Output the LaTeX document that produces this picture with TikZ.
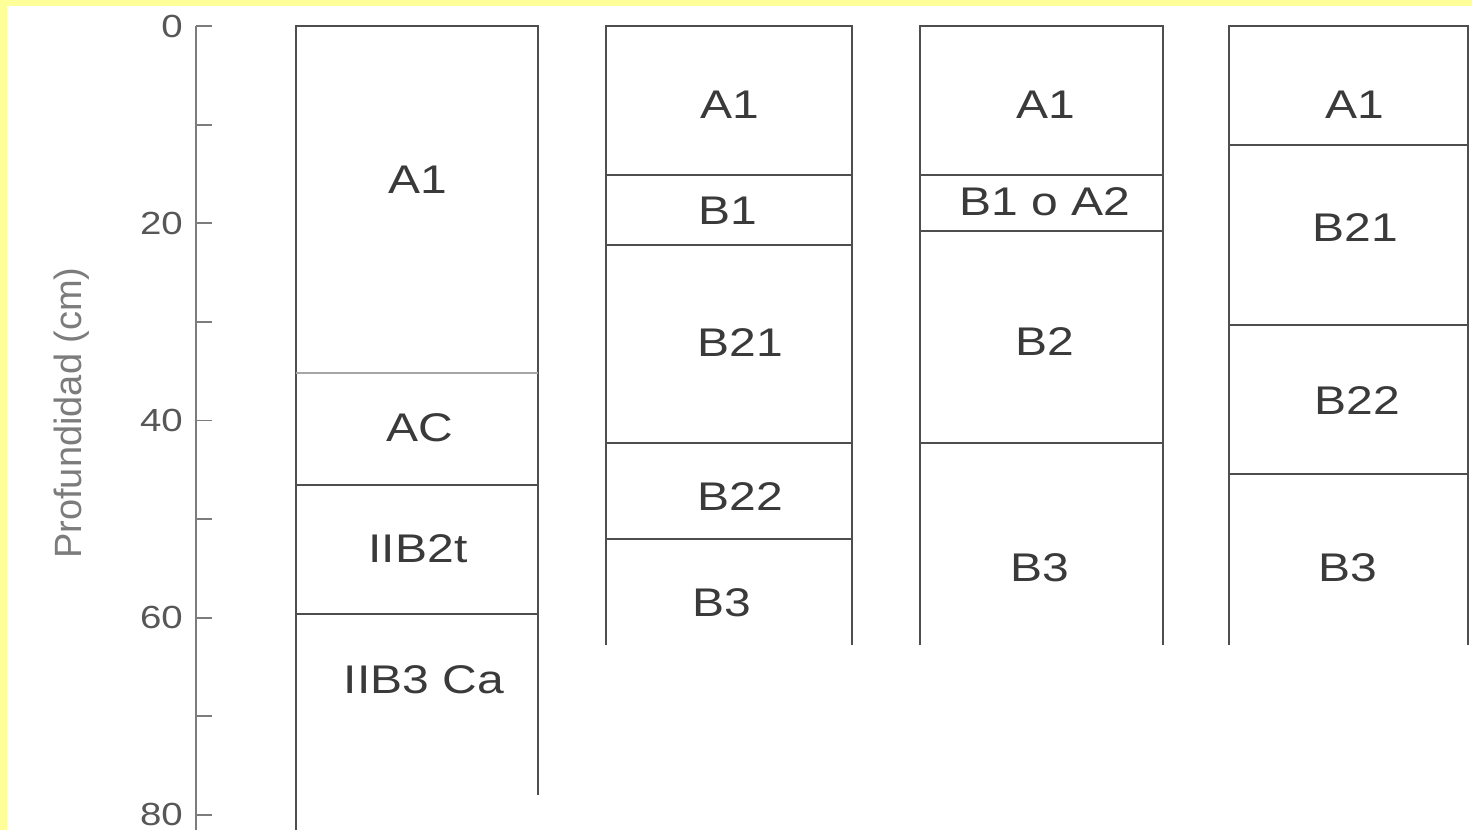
\documentclass[tikz,border=0pt]{standalone}
\usepackage{fontspec}
\setmainfont{Liberation Sans}
\newfontfamily\horizonfont[FakeStretch=1.2]{Liberation Sans}
\usetikzlibrary{positioning}
\definecolor{ink}{HTML}{3A3A3A}
\definecolor{axisgray}{HTML}{7C7C7C}
\definecolor{paleyellow}{HTML}{FFFF99}

\begin{document}
\begin{tikzpicture}[
    x=1pt, y=-1pt,
    every node/.style={inner sep=0pt},
    horizon/.style={font=\horizonfont\fontsize{40}{42}\selectfont, text=ink},
    depthlabel/.style={font=\horizonfont\fontsize{32}{34}\selectfont, text=ink!85, anchor=east},
    column/.style={draw=ink!90, line width=2.2pt},
    boundary/.style={draw=ink!90, line width=2pt},
    faint/.style={draw=ink!45, line width=1.8pt},
    tick/.style={draw=axisgray, line width=1.8pt},
  ]

  % Frame
  \fill[paleyellow] (0,0) rectangle (1472,830);
  \fill[white] (7,6) rectangle (1472,830);
  \useasboundingbox (0,0) rectangle (1472,830);

  % Depth axis
  \draw[tick] (196,26) -- (196,830);
  \foreach \d in {0,10,...,80}
    \draw[tick] (196,{26+9.86*\d}) -- ++(16,0);
  \foreach \d in {0,20,...,80}
    \node[depthlabel] (d\d) at (183,{26+9.86*\d}) {\d};
  \node[font=\fontsize{38}{40}\selectfont, text=axisgray, rotate=90]
    (ylabel) at (72,413) {Profundidad (cm)};

  % Columns
  \draw[column] (296,830) -- (296,26) -- (538,26) -- (538,795);
  \draw[column] (606,645) -- (606,26) -- (852,26) -- (852,645);
  \draw[column] (920,645) -- (920,26) -- (1163,26) -- (1163,645);
  \draw[column] (1229,645) -- (1229,26) -- (1468,26) -- (1468,645);

  % Horizon boundaries
  \draw[faint] (296,373) -- (538,373);
  \foreach \y in {485,614}
    \draw[boundary] (296,\y) -- (538,\y);
  \foreach \y in {175,245,443,539}
    \draw[boundary] (606,\y) -- (852,\y);
  \foreach \y in {175,231,443}
    \draw[boundary] (920,\y) -- (1163,\y);
  \foreach \y in {145,325,474}
    \draw[boundary] (1229,\y) -- (1468,\y);

  % Profile 1
  \node[horizon] (p1a1)   at (418,180) {A1};
  \node[horizon] (p1ac)   at (420,428) {AC};
  \node[horizon] (p1iib2) at (418,549) {IIB2t};
  \node[horizon] (p1iib3) at (424,680) {IIB3 Ca};

  % Profile 2
  \node[horizon] (p2a1)  at (730,105) {A1};
  \node[horizon] (p2b1)  at (728,211) {B1};
  \node[horizon] (p2b21) at (740,343) {B21};
  \node[horizon] (p2b22) at (740,497) {B22};
  \node[horizon] (p2b3)  at (722,603) {B3};

  % Profile 3
  \node[horizon] (p3a1) at (1046,105) {A1};
  \node[horizon] (p3b1) at (1045,202) {B1 o A2};
  \node[horizon] (p3b2) at (1045,342) {B2};
  \node[horizon] (p3b3) at (1040,568) {B3};

  % Profile 4
  \node[horizon] (p4a1)  at (1355,105) {A1};
  \node[horizon] (p4b21) at (1355,228) {B21};
  \node[horizon] (p4b22) at (1357,401) {B22};
  \node[horizon] (p4b3)  at (1348,568) {B3};

\end{tikzpicture}
\end{document}
